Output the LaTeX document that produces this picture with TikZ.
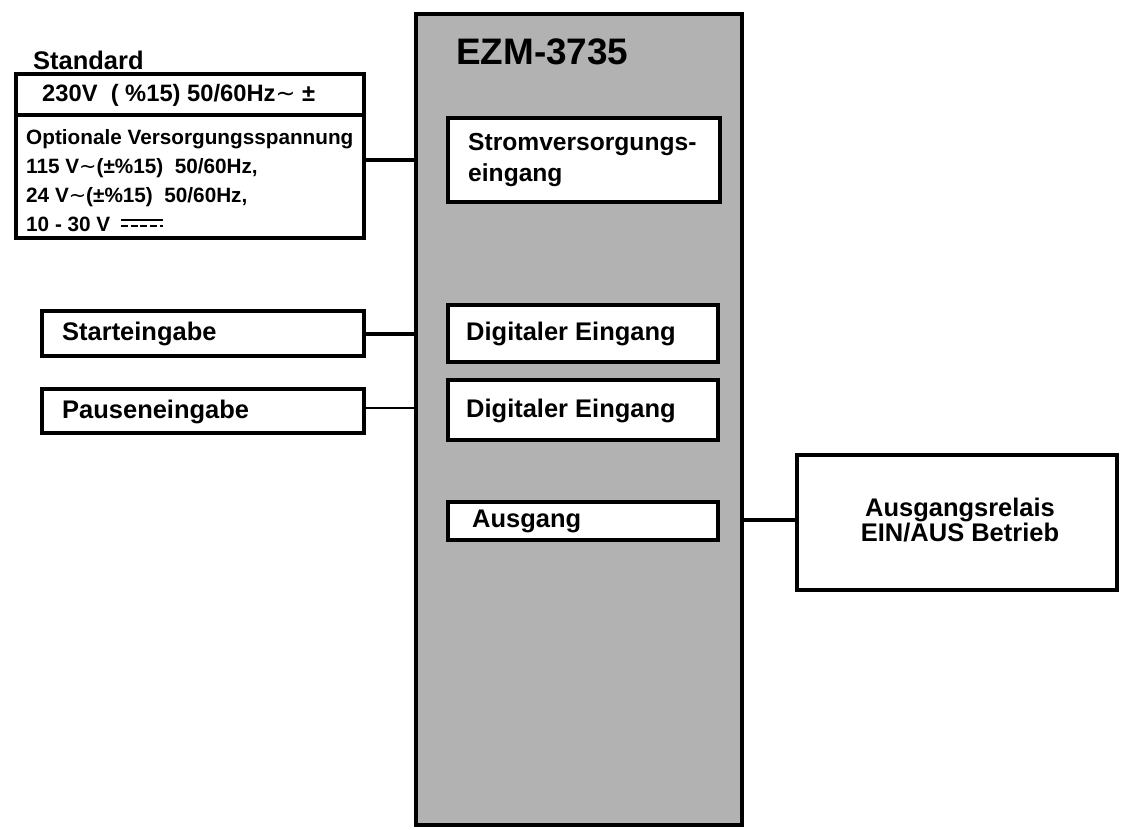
\documentclass[tikz,border=0pt]{standalone}
\usepackage{fontspec}
\setmainfont{Liberation Sans}
\newfontfamily\symfont{DejaVu Sans}
\newcommand{\acsym}{{\symfont\mdseries∼}}
\begin{document}
\begin{tikzpicture}[x=0.02cm,y=-0.02cm,
  box/.style={draw,line width=2.6pt,fill=white},
  lbl/.style={font=\bfseries\fontsize{14.5}{16}\selectfont,anchor=west,align=left},
  link/.style={line width=2.4pt}]
\useasboundingbox (0,0) rectangle (1129,829);
% main unit
\draw[line width=2.6pt,fill=black!30] (416,14) rectangle (742,825);
\node[font=\bfseries\fontsize{21}{24}\selectfont,anchor=west] (EZM) at (450,52) {EZM-3735};
\draw[box] (448,118) rectangle (720,202);
\node[lbl,font=\bfseries\fontsize{14}{18}\selectfont] (PS) at (462,160) {Stromversorgungs-\\eingang};
\draw[box] (448,305) rectangle (718,362);
\node[lbl] (DI1) at (460,334) {Digitaler Eingang};
\draw[box] (448,380) rectangle (718,440);
\node[lbl] (DI2) at (460,411) {Digitaler Eingang};
\draw[box] (448,502) rectangle (718,540);
\node[lbl] (OUT) at (466,521) {Ausgang};
% supply
\node[lbl] (STD) at (27,60) {Standard};
\draw[box] (16,74) rectangle (364,238);
\draw[line width=2.6pt] (16,115) -- (364,115);
\node[lbl,font=\bfseries\fontsize{13.5}{15}\selectfont] (V230) at (36,95) {230V \ ( \%15) 50/60Hz\acsym\ ±};
\node[lbl,font=\bfseries\fontsize{11.8}{16.5}\selectfont,anchor=north west] (OPT) at (20,123)
  {Optionale Versorgungsspannung\\115 V\acsym(±\%15) \ 50/60Hz,\\24 V\acsym(±\%15) \ 50/60Hz,\\10 - 30 V};
\coordinate (dc) at (142,220);
\draw[line width=0.8pt] ([xshift=-12pt]dc) -- ([xshift=12pt]dc);
\draw[line width=0.8pt,dash pattern=on 4pt off 1.5pt] ([xshift=-12pt,yshift=-3.5pt]dc) -- ([xshift=12pt,yshift=-3.5pt]dc);
\coordinate (supR) at (364,160);
\draw[link] (supR) -- (416,160);
% inputs
\draw[box] (42,311) rectangle (364,356);
\node[lbl] (START) at (56,334) {Starteingabe};
\draw[box] (42,389) rectangle (364,433);
\node[lbl] (PAUSE) at (56,412) {Pauseneingabe};
\draw[link] (364,334) -- (416,334);
\draw[line width=1.4pt] (364,408) -- (416,408);
% output
\draw[box] (797,455) rectangle (1117,590);
\node[font=\bfseries\fontsize{14.5}{14}\selectfont,align=center] (REL) at (960,520) {Ausgangsrelais\\EIN/AUS Betrieb};
\draw[link] (742,520) -- (797,520);
\end{tikzpicture}
\end{document}
